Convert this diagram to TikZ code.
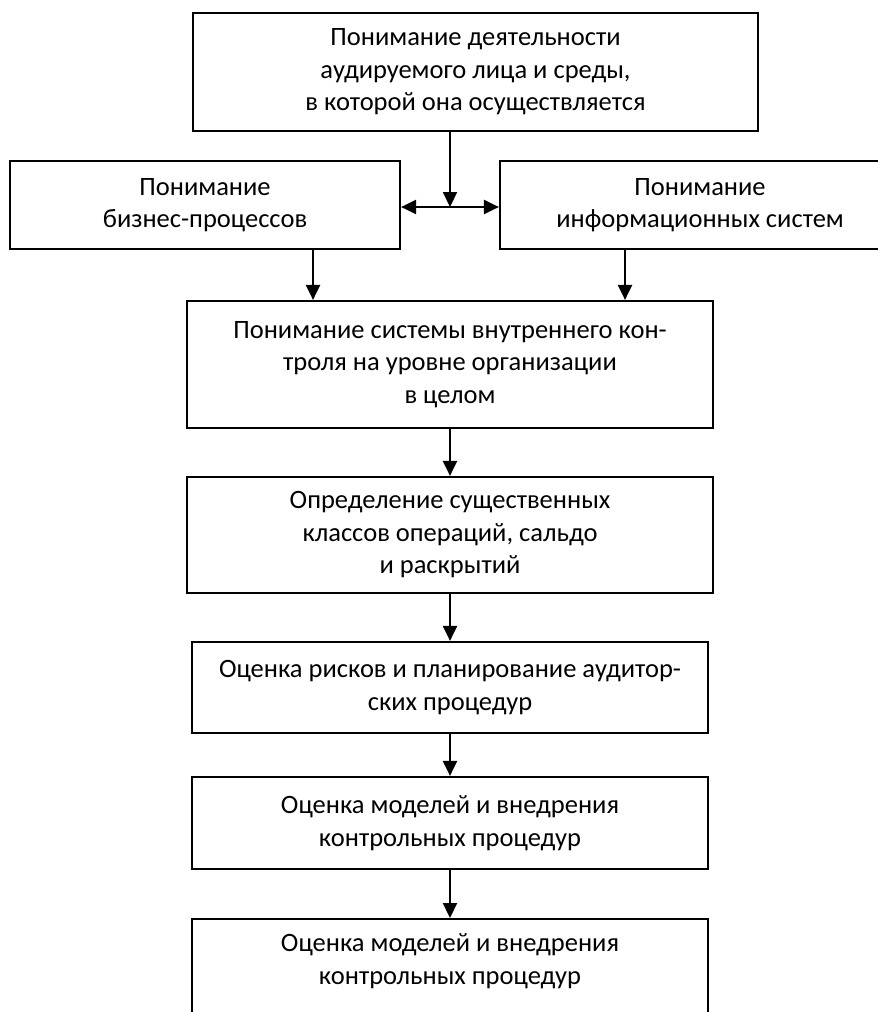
\documentclass[tikz,border=0pt]{standalone}
\usepackage{fontspec}
\setmainfont{Carlito}
\usetikzlibrary{arrows.meta}
\begin{document}
\begin{tikzpicture}[x=1pt,y=-1pt,
  box/.style={draw, line width=2.2pt, inner sep=0pt, align=center, font=\fontsize{26.5}{32.5}\selectfont},
  txt/.style={inner sep=0pt, align=center, font=\fontsize{26.5}{32.5}\selectfont},
  tip/.tip={Triangle[length=15pt,width=14pt]},
  arr/.style={line width=2.2pt, -tip},
  darr/.style={line width=2.2pt, tip-tip}
]
\useasboundingbox (0,0) rectangle (878,1012);
\node[box, minimum width=565, minimum height=118] (top) at (475.5,72) {\raisebox{-4pt}{\parbox{540pt}{\centering Понимание деятельности\\аудируемого лица и среды,\\в которой она осуществляется}}};
\node[box, minimum width=390, minimum height=88] (left) at (205,205) {Понимание\\бизнес-процессов};
\node[box, minimum width=400, minimum height=88] (right) at (700,205) {Понимание\\информационных систем};
\node[box, minimum width=526, minimum height=127] (b3) at (450,364.5) {Понимание системы внутреннего кон-\\троля на уровне организации\\в целом};
\node[box, minimum width=526, minimum height=116] (b4) at (450,535) {Определение существенных\\классов операций, сальдо\\и раскрытий};
\node[box, minimum width=516, minimum height=91] (b5) at (450,687.5) {Оценка рисков и планирование аудитор-\\ских процедур};
\node[box, minimum width=516, minimum height=92] (b6) at (450,823) {Оценка моделей и внедрения\\контрольных процедур};
\node[box, minimum width=516, minimum height=112, anchor=north] (b7) at (450,918) {};
\node[txt] (t7) at (450,961) {Оценка моделей и внедрения\\контрольных процедур};
\coordinate (j) at (450,207);
\coordinate (la) at (313,0);
\coordinate (ra) at (625,0);
\draw[arr] (top.south -| j) -- (j);
\draw[darr] (left.east |- j) -- (right.west |- j);
\draw[arr] (left.south -| la) -- (b3.north -| la);
\draw[arr] (right.south -| ra) -- (b3.north -| ra);
\draw[arr] (b3.south -| j) -- (b4.north -| j);
\draw[arr] (b4.south -| j) -- (b5.north -| j);
\draw[arr] (b5.south -| j) -- (b6.north -| j);
\draw[arr] (b6.south -| j) -- (b7.north -| j);
\end{tikzpicture}
\end{document}
